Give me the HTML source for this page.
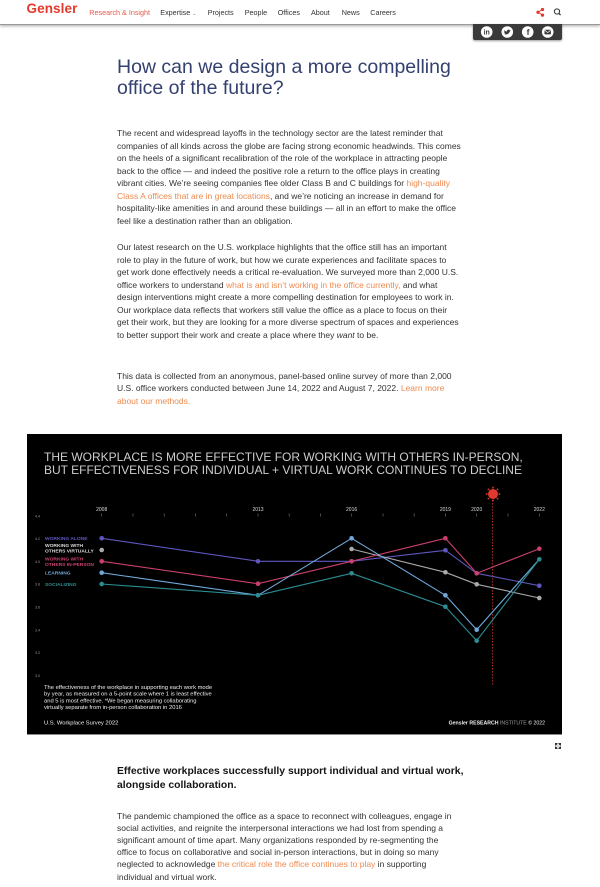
<!DOCTYPE html>
<html><head><meta charset="utf-8">
<style>
html,body{margin:0;padding:0;background:#fff;}
body{width:600px;height:887px;position:relative;overflow:hidden;font-family:"Liberation Sans",sans-serif;}
.a{position:absolute;white-space:nowrap;}
.nav{font-size:7.2px;color:#333;top:8px;line-height:9px;}
.p{position:absolute;left:117px;font-size:8.5px;line-height:12.5px;color:#333;white-space:nowrap;}
.p div{height:12.5px;}
.lk{color:#ee8a4e;}
</style></head><body>

<!-- nav -->
<div style="position:absolute;left:0;top:0;width:600px;height:24px;background:#fff;border-bottom:1px solid #9a9a9a;box-shadow:0 1px 3px rgba(0,0,0,0.35);"></div>
<div class="a" style="left:26.5px;top:1px;font-size:13.5px;line-height:16px;font-weight:bold;color:#e2392d;letter-spacing:0.1px;">Gensler</div>
<div class="a nav" style="left:89.3px;color:#e45a4b;">Research &amp; Insight</div>
<div class="a nav" style="left:160.3px;">Expertise <span style="font-size:5px;color:#777;">&#8964;</span></div>
<div class="a nav" style="left:207.7px;">Projects</div>
<div class="a nav" style="left:244.7px;">People</div>
<div class="a nav" style="left:277.7px;">Offices</div>
<div class="a nav" style="left:311px;">About</div>
<div class="a nav" style="left:341.7px;">News</div>
<div class="a nav" style="left:370.3px;">Careers</div>

<!-- share popup -->
<div style="position:absolute;left:472.7px;top:24px;width:89.6px;height:16px;background:#3a3a3a;border-radius:0 0 2px 2px;box-shadow:0 1px 2px rgba(0,0,0,0.4);"></div>

<!-- title -->
<div class="a" style="left:117px;top:57px;font-size:19.5px;line-height:21px;color:#34406f;">How can we design a more compelling<br>office of the future?</div>

<!-- paragraphs -->
<div class="p" style="top:127px;">
<div>The recent and widespread layoffs in the technology sector are the latest reminder that</div>
<div>companies of all kinds across the globe are facing strong economic headwinds. This comes</div>
<div>on the heels of a significant recalibration of the role of the workplace in attracting people</div>
<div>back to the office — and indeed the positive role a return to the office plays in creating</div>
<div>vibrant cities. We’re seeing companies flee older Class B and C buildings for <span class="lk">high-quality</span></div>
<div><span class="lk">Class A offices that are in great locations</span>, and we’re noticing an increase in demand for</div>
<div>hospitality-like amenities in and around these buildings — all in an effort to make the office</div>
<div>feel like a destination rather than an obligation.</div>
</div>
<div class="p" style="top:241.3px;">
<div>Our latest research on the U.S. workplace highlights that the office still has an important</div>
<div>role to play in the future of work, but how we curate experiences and facilitate spaces to</div>
<div>get work done effectively needs a critical re-evaluation. We surveyed more than 2,000 U.S.</div>
<div>office workers to understand <span class="lk">what is and isn’t working in the office currently,</span> and what</div>
<div>design interventions might create a more compelling destination for employees to work in.</div>
<div>Our workplace data reflects that workers still value the office as a place to focus on their</div>
<div>get their work, but they are looking for a more diverse spectrum of spaces and experiences</div>
<div>to better support their work and create a place where they <i>want</i> to be.</div>
</div>
<div class="p" style="top:369.7px;">
<div>This data is collected from an anonymous, panel-based online survey of more than 2,000</div>
<div>U.S. office workers conducted between June 14, 2022 and August 7, 2022. <span class="lk">Learn more</span></div>
<div><span class="lk">about our methods.</span></div>
</div>

<!-- chart box -->
<div style="position:absolute;left:27px;top:434px;width:535px;height:300px;background:#000;border-bottom:1px solid #8a8a8a;"></div>
<div class="a" style="left:44px;top:450.5px;font-size:12px;line-height:13.2px;color:#cdcdcd;">THE WORKPLACE IS MORE EFFECTIVE FOR WORKING WITH OTHERS IN-PERSON,<br>BUT EFFECTIVENESS FOR INDIVIDUAL + VIRTUAL WORK CONTINUES TO DECLINE</div>

<svg width="600" height="887" viewBox="0 0 600 887" style="position:absolute;left:0;top:0;" xmlns="http://www.w3.org/2000/svg">
  <!-- nav icons -->
  <g stroke="#e2392d" stroke-width="0.9" fill="#e2392d">
    <line x1="538" y1="12.3" x2="542.5" y2="9.5"/>
    <line x1="538" y1="12.3" x2="542.5" y2="15.1"/>
    <circle cx="538" cy="12.3" r="1.2"/><circle cx="542.5" cy="9.5" r="1.2"/><circle cx="542.5" cy="15.1" r="1.2"/>
  </g>
  <circle cx="557" cy="11.5" r="2.6" fill="none" stroke="#333" stroke-width="1"/>
  <line x1="558.9" y1="13.4" x2="560.6" y2="15.1" stroke="#333" stroke-width="1.2"/>
  <!-- share popup icons -->
  <g fill="#fff">
    <circle cx="486.7" cy="32" r="5.8"/><circle cx="507.3" cy="32" r="5.8"/>
    <circle cx="527.7" cy="32" r="5.8"/><circle cx="547.7" cy="32" r="5.8"/>
  </g>
  <text x="486.7" y="34.6" font-family="Liberation Sans" font-weight="bold" font-size="7" fill="#3a3a3a" text-anchor="middle">in</text>
  <path d="M503.8 33.8 C505.5 35 508.5 34.8 509.8 31.5 L510.8 30.2 L509.7 30.4 C509.2 29.5 507.8 29.4 507.2 30.3 C506.9 30.8 507 31.3 507 31.5 C505.8 31.4 505 30.9 504.3 30.1 C504 31 504.4 31.8 505 32.2 C504.6 32.2 504.3 32.1 504.1 32 C504.2 32.8 504.8 33.3 505.4 33.5 C505 33.8 504.4 33.9 503.8 33.8 Z" fill="#3a3a3a"/>
  <text x="528" y="35.2" font-family="Liberation Sans" font-weight="bold" font-size="8.5" fill="#3a3a3a" text-anchor="middle">f</text>
  <rect x="544.5" y="29.8" width="6.4" height="4.6" rx="0.6" fill="#3a3a3a"/>
  <polyline points="544.7,30.2 547.7,32.6 550.7,30.2" fill="none" stroke="#fff" stroke-width="0.7"/>

  <!-- ticks -->
  <g stroke="#6a6a6a" stroke-width="0.7">
    <line x1="101.7" y1="513.5" x2="101.7" y2="516.5"/><line x1="133" y1="513.5" x2="133" y2="516.5"/>
    <line x1="164.2" y1="513.5" x2="164.2" y2="516.5"/><line x1="195.5" y1="513.5" x2="195.5" y2="516.5"/>
    <line x1="226.7" y1="513.5" x2="226.7" y2="516.5"/><line x1="258" y1="513.5" x2="258" y2="516.5"/>
    <line x1="289.2" y1="513.5" x2="289.2" y2="516.5"/><line x1="320.5" y1="513.5" x2="320.5" y2="516.5"/>
    <line x1="351.7" y1="513.5" x2="351.7" y2="516.5"/><line x1="383" y1="513.5" x2="383" y2="516.5"/>
    <line x1="414.2" y1="513.5" x2="414.2" y2="516.5"/><line x1="445.4" y1="513.5" x2="445.4" y2="516.5"/>
    <line x1="476.7" y1="513.5" x2="476.7" y2="516.5"/><line x1="508" y1="513.5" x2="508" y2="516.5"/>
    <line x1="539.3" y1="513.5" x2="539.3" y2="516.5"/>
  </g>
  <g font-family="Liberation Sans" font-size="5" fill="#dcdcdc" text-anchor="middle">
    <text x="101.7" y="510.8">2008</text><text x="258" y="510.8">2013</text>
    <text x="351.6" y="510.8">2016</text><text x="445.4" y="510.8">2019</text>
    <text x="476.7" y="510.8">2020</text><text x="539.3" y="510.8">2022</text>
  </g>
  <!-- y labels -->
  <g font-family="Liberation Sans" font-size="3.6" fill="#9a9a9a" text-anchor="middle">
    <text x="37.5" y="517.3">4.4</text><text x="37.5" y="540.1">4.2</text>
    <text x="37.5" y="562.9">4.0</text><text x="37.5" y="585.7">3.8</text>
    <text x="37.5" y="608.5">3.6</text><text x="37.5" y="631.3">3.4</text>
    <text x="37.5" y="654.1">3.2</text><text x="37.5" y="676.9">3.0</text>
  </g>
  <!-- legend -->
  <g font-family="Liberation Sans" font-size="4.9" font-weight="bold">
    <text x="45" y="540" fill="#5e57bd">WORKING ALONE</text>
    <text x="45" y="546.8" fill="#dddddd">WORKING WITH</text>
    <text x="45" y="552.4" fill="#dddddd">OTHERS VIRTUALLY</text>
    <text x="45" y="560.6" fill="#cf4470">WORKING WITH</text>
    <text x="45" y="566.2" fill="#cf4470">OTHERS IN-PERSON</text>
    <text x="45" y="574.6" fill="#6fa9dc">LEARNING</text>
    <text x="45" y="585.8" fill="#2e9096">SOCIALIZING</text>
  </g>

  <!-- covid marker -->
  <line x1="492.7" y1="500" x2="492.7" y2="685" stroke="#d33a2c" stroke-width="0.8" stroke-dasharray="1.6 1.4"/>
  <g fill="#e0392d">
    <circle cx="493" cy="494" r="5"/>
    <circle cx="493" cy="487.5" r="0.9"/><circle cx="493" cy="500.5" r="0.9"/>
    <circle cx="486.5" cy="494" r="0.9"/><circle cx="499.5" cy="494" r="0.9"/>
    <circle cx="488.4" cy="489.4" r="0.9"/><circle cx="497.6" cy="489.4" r="0.9"/>
    <circle cx="488.4" cy="498.6" r="0.9"/><circle cx="497.6" cy="498.6" r="0.9"/>
  </g>
  <g stroke="#e0392d" stroke-width="0.5">
    <line x1="493" y1="488" x2="493" y2="500"/><line x1="487" y1="494" x2="499" y2="494"/>
    <line x1="488.8" y1="489.8" x2="497.2" y2="498.2"/><line x1="497.2" y1="489.8" x2="488.8" y2="498.2"/>
  </g>

  <!-- series lines -->
  <g fill="none" stroke-width="1.1" stroke-linejoin="round">
    <polyline stroke="#5e57bd" points="101.7,538.3 258,561.3 351.6,561.3 445.4,550.3 476.7,573.3 539.3,585.7"/>
    <polyline stroke="#a9a9a9" points="351.6,549 445.4,572.3 476.7,584.3 539.3,598"/>
    <polyline stroke="#c9416b" points="101.7,561.3 258,583.7 351.6,561.3 445.4,538.3 476.7,573.3 539.3,548.7"/>
    <polyline stroke="#6fa9dc" points="101.7,572.7 258,595.3 351.6,538.3 445.4,595.3 476.7,629.7 539.3,559.3"/>
    <polyline stroke="#2b8c91" points="101.7,584 258,595.3 351.6,573.3 445.4,606.7 476.7,640.7 539.3,559.3"/>
  </g>
  <!-- dots -->
  <g fill="#5e57bd">
    <circle cx="101.7" cy="538.3" r="2.3"/><circle cx="258" cy="561.3" r="2.3"/><circle cx="351.6" cy="561.3" r="2.3"/>
    <circle cx="445.4" cy="550.3" r="2.3"/><circle cx="476.7" cy="573.3" r="2.3"/><circle cx="539.3" cy="585.7" r="2.3"/>
  </g>
  <g fill="#a9a9a9">
    <circle cx="101.7" cy="550" r="2.3"/><circle cx="351.6" cy="549" r="2.3"/><circle cx="445.4" cy="572.3" r="2.3"/>
    <circle cx="476.7" cy="584.3" r="2.3"/><circle cx="539.3" cy="598" r="2.3"/>
  </g>
  <g fill="#c9416b">
    <circle cx="101.7" cy="561.3" r="2.3"/><circle cx="258" cy="583.7" r="2.3"/><circle cx="351.6" cy="561.3" r="2.3"/>
    <circle cx="445.4" cy="538.3" r="2.3"/><circle cx="476.7" cy="573.3" r="2.3"/><circle cx="539.3" cy="548.7" r="2.3"/>
  </g>
  <g fill="#6fa9dc">
    <circle cx="101.7" cy="572.7" r="2.3"/><circle cx="258" cy="595.3" r="2.3"/><circle cx="351.6" cy="538.3" r="2.3"/>
    <circle cx="445.4" cy="595.3" r="2.3"/><circle cx="476.7" cy="629.7" r="2.3"/>
  </g>
  <g fill="#2b8c91">
    <circle cx="101.7" cy="584" r="2.3"/><circle cx="258" cy="595.3" r="2.3"/><circle cx="351.6" cy="573.3" r="2.3"/>
    <circle cx="445.4" cy="606.7" r="2.3"/><circle cx="476.7" cy="640.7" r="2.3"/><circle cx="539.3" cy="559.3" r="2.3"/>
  </g>

  <!-- chart footnotes -->
  <g font-family="Liberation Sans" font-size="5.8" fill="#f0f0f0">
    <text x="44" y="689">The effectiveness of the workplace in supporting each work mode</text>
    <text x="44" y="695.7">by year, as measured on a 5-point scale where 1 is least effective</text>
    <text x="44" y="702.4">and 5 is most effective. *We began measuring collaborating</text>
    <text x="44" y="709.1">virtually separate from in-person collaboration in 2016</text>
    <text x="44" y="724.6">U.S. Workplace Survey 2022</text>
  </g>
  <text x="545" y="724.6" font-family="Liberation Sans" font-size="5.2" text-anchor="end" fill="#f0f0f0"><tspan font-weight="bold">Gensler RESEARCH</tspan><tspan fill="#a0a0a0"> INSTITUTE</tspan> © 2022</text>

  <!-- expand icon -->
  <g fill="#333">
    <polygon points="555,743 558,743 555,746"/><polygon points="561,743 558,743 561,746"/>
    <polygon points="555,749 558,749 555,746"/><polygon points="561,749 558,749 561,746"/>
  </g>
  <g stroke="#333" stroke-width="0.8">
    <line x1="555.5" y1="743.5" x2="557.3" y2="745.3"/><line x1="560.5" y1="743.5" x2="558.7" y2="745.3"/>
    <line x1="555.5" y1="748.5" x2="557.3" y2="746.7"/><line x1="560.5" y1="748.5" x2="558.7" y2="746.7"/>
  </g>
</svg>

<!-- section 2 -->
<div class="a" style="left:117px;top:765px;font-size:10.4px;line-height:14px;font-weight:bold;color:#151515;">Effective workplaces successfully support individual and virtual work,<br>alongside collaboration.</div>
<div class="p" style="top:809.7px;line-height:12.2px;">
<div style="height:12.2px;">The pandemic championed the office as a space to reconnect with colleagues, engage in</div>
<div style="height:12.2px;">social activities, and reignite the interpersonal interactions we had lost from spending a</div>
<div style="height:12.2px;">significant amount of time apart. Many organizations responded by re-segmenting the</div>
<div style="height:12.2px;">office to focus on collaborative and social in-person interactions, but in doing so many</div>
<div style="height:12.2px;">neglected to acknowledge <span class="lk">the critical role the office continues to play</span> in supporting</div>
<div style="height:12.2px;">individual and virtual work.</div>
</div>

</body></html>
